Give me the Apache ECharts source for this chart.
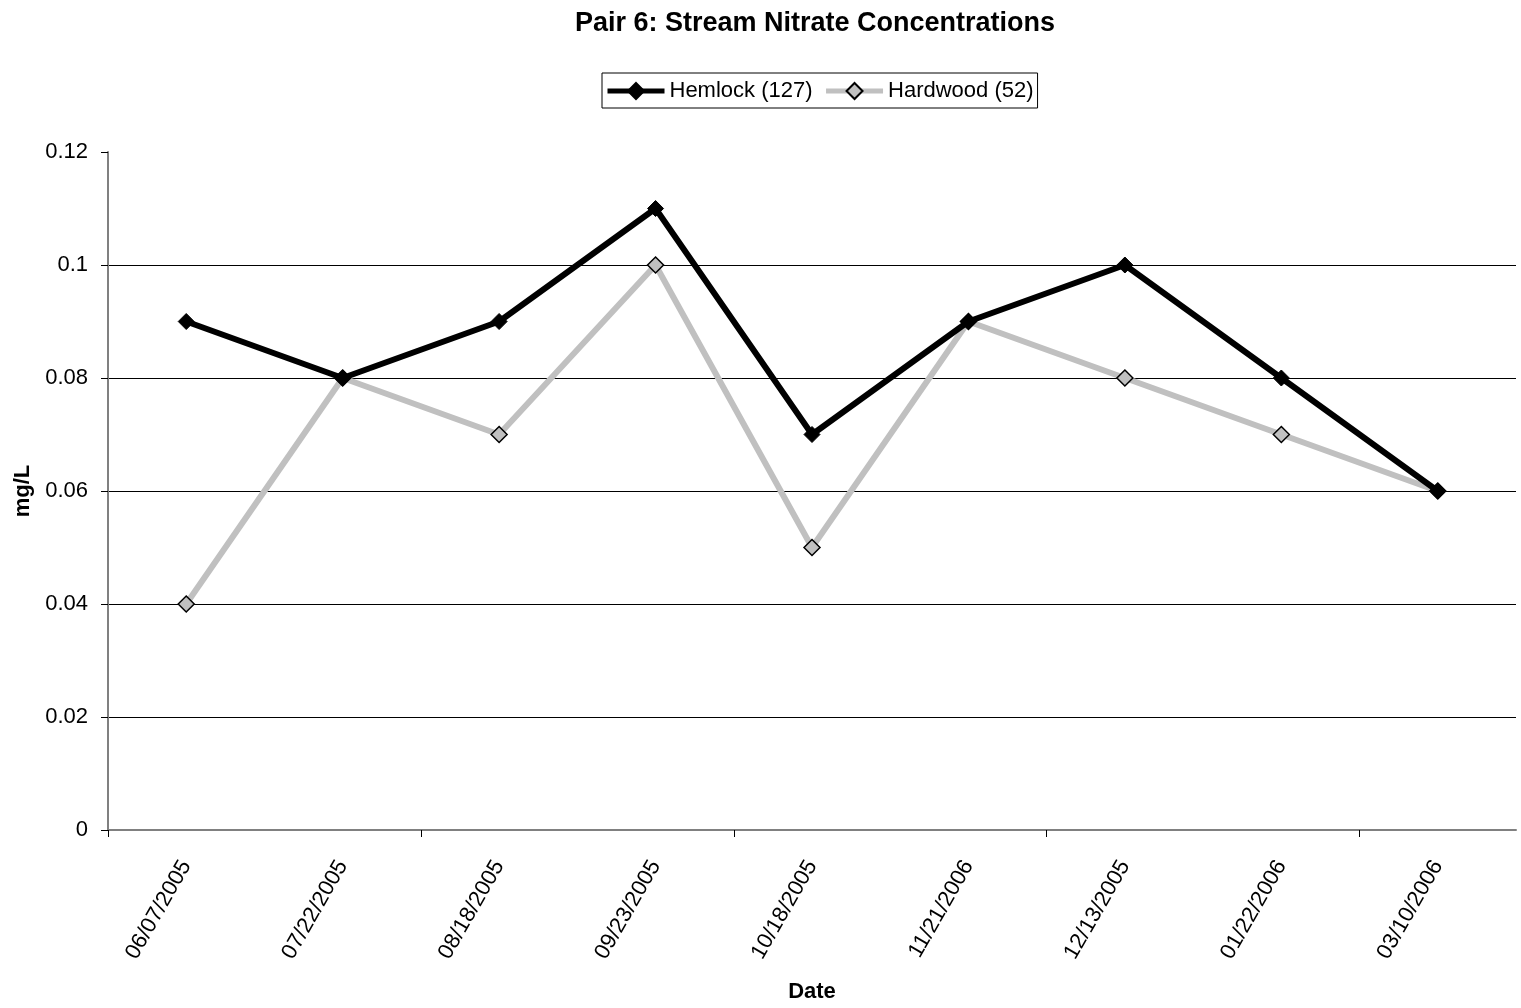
<!DOCTYPE html>
<html><head><meta charset="utf-8">
<script src="https://cdn.jsdelivr.net/npm/echarts@6/dist/echarts.min.js"></script>
<style>html,body{margin:0;padding:0;background:#fff}#c{width:1521px;height:1008px}</style>
</head><body><div id="c"></div>
<script>
const dates = ['06/07/2005','07/22/2005','08/18/2005','09/23/2005','10/18/2005','11/21/2006','12/13/2005','01/22/2006','03/10/2006'];
const hemlock = [0.09,0.08,0.09,0.11,0.07,0.09,0.10,0.08,0.06];
const hardwood = [0.04,0.08,0.07,0.10,0.05,0.09,0.08,0.07,0.06];
const yTicks = [0,0.02,0.04,0.06,0.08,0.1,0.12];
// category boundaries (one more than categories) for the every-other tick marks
const boundaries = dates.map((d,i)=>String(i)).concat([String(dates.length)]);

const font = 'Liberation Sans, Arial, sans-serif';
const chart = echarts.init(document.getElementById('c'));
chart.setOption({
  animation:false,
  backgroundColor:'#fff',
  textStyle:{fontFamily:font},
  title:{text:'Pair 6: Stream Nitrate Concentrations',left:810,textAlign:'center',top:5,
    textStyle:{fontFamily:font,fontWeight:'bold',fontSize:27,color:'#000'}},
  legend:{top:73,left:602,borderColor:'#000',borderWidth:1,padding:[7,4,6,3],
    itemWidth:57,itemHeight:20,itemGap:11,
    lineStyle:{width:5},
    textStyle:{fontFamily:font,fontSize:22,color:'#000'},
    data:['Hemlock (127)','Hardwood (52)']},
  grid:{left:108,right:5,top:152,bottom:170,containLabel:false},
  xAxis:[{type:'category',data:dates,boundaryGap:true,
    name:'Date',nameLocation:'middle',nameGap:151,
    nameTextStyle:{fontFamily:font,fontWeight:'bold',fontSize:22,color:'#000',verticalAlign:'top'},
    axisLine:{lineStyle:{color:'#808080',width:2}},
    axisTick:{show:false},
    axisLabel:{rotate:60,interval:0,margin:32,fontFamily:font,fontSize:22,color:'#000'},
    splitLine:{show:false}},
   {type:'category',data:boundaries,boundaryGap:false,position:'bottom',
    axisLine:{show:false},
    axisTick:{show:true,interval:(i)=>i%2===0,length:7,lineStyle:{color:'#000',width:1}},
    axisLabel:{show:false},splitLine:{show:false}}],
  yAxis:{type:'value',min:0,max:0.12,interval:0.02,
    name:'mg/L',nameLocation:'middle',nameGap:72,nameRotate:90,
    nameTextStyle:{fontFamily:font,fontWeight:'bold',fontSize:22,color:'#000'},
    axisLine:{show:true,lineStyle:{color:'#808080',width:2}},
    axisTick:{show:true,length:7,lineStyle:{color:'#000',width:1}},
    axisLabel:{margin:20,fontFamily:font,fontSize:22,color:'#000',
      formatter:v=>{const t=yTicks.find(x=>Math.abs(x-v)<1e-9);return t===undefined?'':String(t);}},
    splitLine:{showMaxLine:false,showMinLine:false,lineStyle:{color:'#000',width:1}}},
  series:[
    {name:'Hardwood (52)',type:'line',data:hardwood,symbol:'diamond',symbolSize:16,z:2,
      lineStyle:{color:'#c0c0c0',width:6},
      itemStyle:{color:'#c0c0c0',borderColor:'#000',borderWidth:1.5}},
    {name:'Hemlock (127)',type:'line',data:hemlock,symbol:'diamond',symbolSize:16,z:3,
      lineStyle:{color:'#000',width:6},
      itemStyle:{color:'#000',borderColor:'#000',borderWidth:1}}
  ]
});
</script></body></html>
